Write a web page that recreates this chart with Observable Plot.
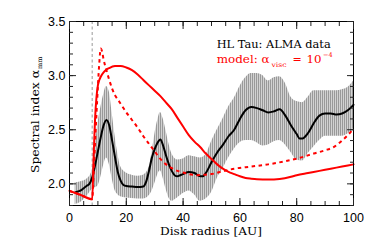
<!DOCTYPE html>
<html><head><meta charset="utf-8">
<script src="https://cdn.jsdelivr.net/npm/d3@7"></script>
<script src="https://cdn.jsdelivr.net/npm/@observablehq/plot@0.6"></script>
<style>html,body{margin:0;padding:0;background:#fff;} svg{display:block;}</style>
</head><body><div id="chart"></div>
<script>
// Observed spectral index (black line)
const obsR = [2,3,4,5,6,7,8,9,10,11,12,13,14,15,16,17,18,19,20,22,24,26,27,28,29,30,31,32,33,34,35,36,37,38,39,40,42,44,46,47,48,50,52,54,56,58,60,62,64,66,68,70,72,74,76,78,80,81,82,84,86,88,90,92,94,96,98,100];
const obsAlpha = [1.92,1.93,1.94,1.96,1.98,2.00,2.06,2.17,2.30,2.43,2.54,2.59,2.54,2.40,2.25,2.11,2.03,1.99,1.98,1.975,1.97,1.975,2.02,2.12,2.24,2.32,2.38,2.41,2.35,2.26,2.18,2.12,2.08,2.07,2.08,2.09,2.11,2.10,2.07,2.07,2.10,2.20,2.29,2.36,2.44,2.50,2.60,2.68,2.71,2.70,2.68,2.66,2.67,2.69,2.63,2.54,2.46,2.42,2.42,2.47,2.56,2.63,2.65,2.65,2.64,2.65,2.68,2.73];

// Uncertainty band (grey)
const bandR = [2,4,6,8,10,11,12,13,14,15,16,17,18,20,22,24,26,28,29,30,31,32,33,34,35,36,38,40,42,44,46,48,50,52,54,56,58,60,62,64,66,68,70,72,74,76,78,80,82,84,86,88,90,92,94,96,98,100];
const bandHi = [2.01,2.02,2.04,2.12,2.55,2.70,2.82,2.90,2.85,2.66,2.45,2.28,2.16,2.10,2.08,2.07,2.08,2.15,2.28,2.45,2.58,2.66,2.60,2.49,2.37,2.28,2.22,2.23,2.26,2.25,2.24,2.27,2.39,2.50,2.60,2.71,2.79,2.90,2.98,3.02,3.02,3.00,2.95,2.98,2.99,2.93,2.80,2.76,2.75,2.80,2.86,2.86,2.86,2.86,2.86,2.87,2.89,2.95];
const bandLo = [1.81,1.83,1.88,1.95,1.98,2.06,2.17,2.24,2.18,2.05,1.94,1.90,1.88,1.87,1.865,1.86,1.86,1.89,1.93,2.00,2.08,2.12,2.05,1.95,1.87,1.84,1.87,1.91,1.935,1.90,1.84,1.86,1.92,2.05,2.14,2.24,2.32,2.38,2.40,2.40,2.38,2.35,2.36,2.39,2.40,2.36,2.29,2.22,2.21,2.28,2.34,2.40,2.44,2.44,2.44,2.44,2.46,2.51];

// Model (solid red)
const modelR = [0,4,8,8.5,9,9.5,10,10.5,11,12,13,14,16,18,20,22,24,26,28,30,32,34,36,38,40,42,44,46,48,50,52,54,56,58,60,62,64,66,70,74,78,80,84,88,92,96,100];
const modelAlpha = [1.935,1.897,1.858,2.25,2.60,2.80,2.91,2.96,2.99,3.03,3.055,3.07,3.088,3.09,3.075,3.05,3.01,2.96,2.91,2.86,2.81,2.75,2.69,2.61,2.53,2.45,2.39,2.34,2.28,2.23,2.18,2.14,2.11,2.09,2.07,2.055,2.048,2.043,2.04,2.045,2.065,2.08,2.10,2.12,2.14,2.16,2.18];

// Model (dashed red)
const dashR = [0,4,8,8.5,9,9.5,10,10.5,11,11.5,12,13,14,15,16,17,18,20,22,24,26,28,30,32,34,36,38,40,42,45,48,50,53,58,64,70,76,81,86,90,93,96,98,100];
const dashAlpha = [1.935,1.897,1.858,2.10,2.38,2.65,2.90,3.12,3.25,3.22,3.15,3.05,2.96,2.88,2.82,2.78,2.74,2.66,2.59,2.52,2.44,2.37,2.30,2.23,2.18,2.145,2.12,2.105,2.09,2.08,2.085,2.09,2.11,2.14,2.16,2.18,2.21,2.24,2.28,2.31,2.34,2.40,2.45,2.51];

const innerEdge = [8];
const xMajor = [0,20,40,60,80,100];
const xMinor = [0,5,10,15,20,25,30,35,40,45,50,55,60,65,70,75,80,85,90,95,100];
const yMajor = [2.0,2.5,3.0,3.5];
const yMinor = [1.8,1.9,2.0,2.1,2.2,2.3,2.4,2.5,2.6,2.7,2.8,2.9,3.0,3.1,3.2,3.3,3.4,3.5];

const xTitle = "Disk radius [AU]";
const yTitle = "Spectral index α";
const yTitleSub = "mm";
const legendData = "HL Tau: ALMA data";
const legendModel = "model: α";
const legendModelSub = "visc";
const legendModelEq = "=";
const legendModelBase = "10";
const legendModelSup = "−4";

const obs = obsR.map((r, i) => ({r, a: obsAlpha[i]}));
const band = bandR.map((r, i) => ({r, lo: bandLo[i], hi: bandHi[i]}));
const model = modelR.map((r, i) => ({r, a: modelAlpha[i]}));
const dash = dashR.map((r, i) => ({r, a: dashAlpha[i]}));

const tickColor = "#222";
const noText = {tickFormat: () => "", fill: "none", label: null};

const plot = Plot.plot({
  width: 374, height: 249,
  marginLeft: 69, marginRight: 21, marginTop: 21, marginBottom: 44,
  style: {fontFamily: "'Liberation Sans', Arial, sans-serif", fontSize: "12.5px", color: "#000", background: "#fff"},
  x: {domain: [0, 100]},
  y: {domain: [1.8, 3.5]},
  marks: [
    Plot.ruleX(innerEdge, {stroke: "#b0b0b0", strokeWidth: 1.3, strokeDasharray: "3,2.5"}),
    Plot.areaY(band, {x: "r", y1: "lo", y2: "hi", fill: "#b5b5b5", curve: "monotone-x"}),
    Plot.lineY(obs, {x: "r", y: "a", stroke: "#000", strokeWidth: 2, curve: "monotone-x"}),
    Plot.lineY(dash, {x: "r", y: "a", stroke: "#ff0000", strokeWidth: 2, strokeDasharray: "3.5,3.5", strokeLinecap: "butt", curve: "monotone-x"}),
    Plot.lineY(model, {x: "r", y: "a", stroke: "#ff0000", strokeWidth: 2, curve: "monotone-x"}),
    Plot.frame({stroke: "#000", strokeWidth: 1}),
    // inward ticks on all four sides
    Plot.axisX(xMinor, {anchor: "bottom", tickSize: 4, dy: -4, stroke: tickColor, ...noText}),
    Plot.axisX(xMajor, {anchor: "bottom", tickSize: 7, dy: -7, stroke: tickColor, ...noText}),
    Plot.axisX(xMinor, {anchor: "top", tickSize: 4, dy: 4, stroke: tickColor, ...noText}),
    Plot.axisX(xMajor, {anchor: "top", tickSize: 7, dy: 7, stroke: tickColor, ...noText}),
    Plot.axisY(yMinor, {anchor: "left", tickSize: 4, dx: 4, stroke: tickColor, ...noText}),
    Plot.axisY(yMajor, {anchor: "left", tickSize: 7, dx: 7, stroke: tickColor, ...noText}),
    Plot.axisY(yMinor, {anchor: "right", tickSize: 4, dx: -4, stroke: tickColor, ...noText}),
    Plot.axisY(yMajor, {anchor: "right", tickSize: 7, dx: -7, stroke: tickColor, ...noText}),
    // tick labels
    Plot.axisX(xMajor, {anchor: "bottom", tickSize: 0, tickPadding: 8, label: null, tickFormat: d => String(d), fontSize: 12.5}),
    Plot.axisY(yMajor, {anchor: "left", tickSize: 0, tickPadding: 4, label: null, tickFormat: d => d.toFixed(1), fontSize: 12.5})
  ]
});

document.getElementById("chart").appendChild(plot);

const svg = d3.select(plot);
// striped pattern for the error bars band
const defs = svg.insert("defs", ":first-child");
const pat = defs.append("pattern").attr("id", "stripes").attr("patternUnits", "userSpaceOnUse")
  .attr("width", 2).attr("height", 4);
pat.append("rect").attr("width", 2).attr("height", 4).attr("fill", "#d2d2d2");
pat.append("rect").attr("width", 1).attr("height", 4).attr("fill", "#999");
svg.selectAll('g[aria-label="area"] path').attr("fill", "url(#stripes)");

const serif = "'DejaVu Serif', 'Liberation Serif', serif";
const g = svg.append("g").attr("text-anchor", "start").attr("font-family", serif);
// x title
g.append("text").attr("x", 160).attr("y", 235).attr("text-anchor", "start")
  .attr("font-size", 10.5).attr("fill", "#000")
  .attr("textLength", 102).attr("lengthAdjust", "spacingAndGlyphs").text(xTitle);
// y title
const yt = g.append("text").attr("transform", "translate(39,173) rotate(-90)").attr("text-anchor", "start")
  .attr("font-size", 10.5).attr("fill", "#000");
yt.append("tspan").attr("textLength", 103).attr("lengthAdjust", "spacingAndGlyphs").text(yTitle);
yt.append("tspan").attr("font-size", 6.5).attr("dy", 3).attr("dx", 1).text(yTitleSub);
// legend
g.append("text").attr("x", 216.7).attr("y", 48).attr("text-anchor", "start").attr("font-size", 11)
  .attr("fill", "#000").attr("textLength", 114).attr("lengthAdjust", "spacingAndGlyphs").text(legendData);
const lg = g.append("text").attr("y", 62.5).attr("text-anchor", "start").attr("font-size", 11)
  .attr("fill", "#ff0000");
lg.append("tspan").attr("x", 216.7).attr("textLength", 53).attr("lengthAdjust", "spacingAndGlyphs").text(legendModel);
lg.append("tspan").attr("x", 271.5).attr("font-size", 6.5).attr("dy", 4).attr("textLength", 15).attr("lengthAdjust", "spacingAndGlyphs").text(legendModelSub);
lg.append("tspan").attr("x", 292.5).attr("font-size", 11).attr("dy", -4).text(legendModelEq);
lg.append("tspan").attr("x", 306.5).attr("font-size", 11).attr("textLength", 15).attr("lengthAdjust", "spacingAndGlyphs").text(legendModelBase);
lg.append("tspan").attr("x", 323).attr("font-size", 6.5).attr("dy", -6).text(legendModelSup);
</script>
</body></html>
